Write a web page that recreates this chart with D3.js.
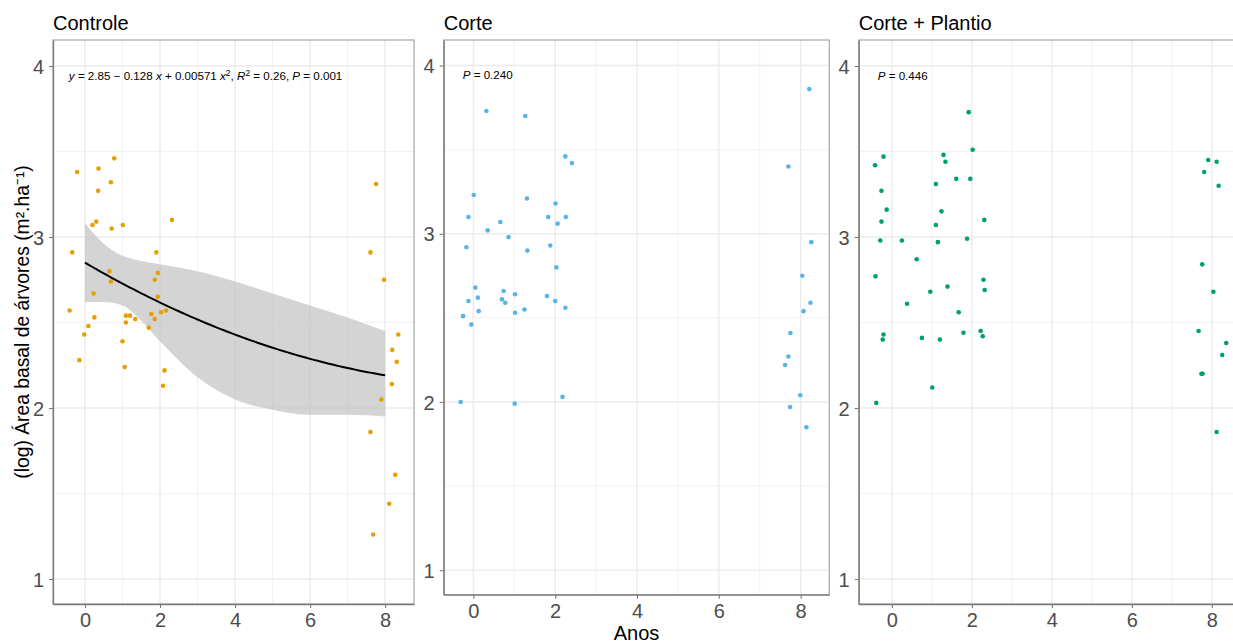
<!DOCTYPE html>
<html>
<head>
<meta charset="utf-8">
<script src="https://cdn.jsdelivr.net/npm/d3@7"></script>
<style>
  body { margin: 0; background: #fff; }
  text { font-family: "Liberation Sans", Arial, sans-serif; }
</style>
</head>
<body>
<div id="chart"></div>
<script>
// DATA
const panelTitles = ["Controle", "Corte", "Corte + Plantio"];
const xTicks = [0, 2, 4, 6, 8];
const yTicks = [1, 2, 3, 4];

const controleX = [-0.21, 0.78, 0.36, 0.69, 0.35, 0.20, 0.30, 0.71, 1.01, 2.32, -0.34, 1.90, 0.65, 0.69, 1.94, 1.86,
  0.23, 1.94, -0.41, 0.25, 1.09, 1.20, 1.34, 1.09, 1.77, 1.86, 2.03, 2.16, 1.70, 0.09, -0.02, 1.00, -0.15, 1.06, 2.12, 2.08,
  7.76, 7.61, 7.97, 8.35, 8.19, 8.31, 8.18, 7.90, 7.61, 8.27, 8.11, 7.68];
const controleY = [3.38, 3.46, 3.40, 3.32, 3.27, 3.07, 3.09, 3.05, 3.07, 3.10, 2.91, 2.91, 2.80, 2.74, 2.79, 2.75,
  2.67, 2.65, 2.57, 2.53, 2.54, 2.54, 2.52, 2.50, 2.55, 2.52, 2.56, 2.57, 2.47, 2.48, 2.43, 2.39, 2.28, 2.24, 2.22, 2.13,
  3.31, 2.91, 2.75, 2.43, 2.34, 2.27, 2.14, 2.05, 1.86, 1.61, 1.44, 1.26];

const corteX = [0.32, 1.27, 2.25, 2.41, 0.01, 1.31, 2.01, -0.12, 0.66, 1.83, 2.26, 2.06, 0.35, 0.86, -0.17, 1.32, 1.88,
  2.03, 0.05, 0.74, 0.11, -0.12, 0.70, 0.78, 1.02, 1.80, 2.00, 2.25, 0.13, 1.02, 1.25, -0.25, -0.05, -0.31, 1.01, 2.18,
  8.21, 7.70, 8.26, 8.04, 8.24, 8.07, 7.75, 7.70, 7.62, 7.99, 7.74, 8.14];
const corteY = [3.73, 3.70, 3.46, 3.42, 3.23, 3.21, 3.18, 3.10, 3.07, 3.10, 3.10, 3.06, 3.02, 2.98, 2.92, 2.90, 2.93,
  2.80, 2.68, 2.66, 2.62, 2.60, 2.61, 2.59, 2.64, 2.63, 2.60, 2.56, 2.54, 2.53, 2.55, 2.51, 2.46, 2.00, 1.99, 2.03,
  3.86, 3.40, 2.95, 2.75, 2.59, 2.54, 2.41, 2.27, 2.22, 2.04, 1.97, 1.85];

const plantioX = [1.92, 2.02, -0.21, 1.29, 1.34, -0.42, 1.61, 1.96, 1.10, -0.26, -0.13, 1.24, -0.26, 2.31, 1.10, -0.29,
  0.25, 1.15, 1.88, 0.62, -0.41, 2.29, 2.32, 1.39, 0.96, 0.38, 1.67, -0.21, -0.23, 0.75, 1.20, 1.79, 2.22, 2.27, 1.01, -0.39,
  7.91, 8.12, 7.81, 8.17, 7.76, 8.04, 7.67, 8.36, 8.26, 7.74, 7.77, 8.12];
const plantioY = [3.73, 3.51, 3.47, 3.48, 3.44, 3.42, 3.34, 3.34, 3.31, 3.27, 3.16, 3.15, 3.09, 3.10, 3.07, 2.98,
  2.98, 2.97, 2.99, 2.87, 2.77, 2.75, 2.69, 2.71, 2.68, 2.61, 2.56, 2.43, 2.40, 2.41, 2.40, 2.44, 2.45, 2.42, 2.12, 2.03,
  3.45, 3.44, 3.38, 3.30, 2.84, 2.68, 2.45, 2.38, 2.31, 2.20, 2.20, 1.86];

// fitted curve (quadratic) and its confidence band, Controle only
const fitX = [0, 0.5, 1, 1.5, 2, 3, 4, 5, 6, 7, 8];
const bandUpper = [3.08, 2.96, 2.89, 2.86, 2.84, 2.80, 2.74, 2.67, 2.60, 2.53, 2.45];
const bandLower = [2.62, 2.62, 2.60, 2.51, 2.39, 2.18, 2.05, 1.99, 1.96, 1.96, 1.95];
const fitCoef = [2.85, -0.128, 0.00571];

const pLabels = [null, "0.240", "0.446"];
const colors = ["#E69F00", "#56B4E9", "#009E73"];

const panels = [
  { left: 53, right: 414, top: 40, bottom: 604, xd: [-0.853, 8.77], yd: [0.854, 4.152], xs: controleX, ys: controleY },
  { left: 443.7, right: 829.3, top: 40, bottom: 594.7, xd: [-0.724, 8.70], yd: [0.854, 4.152], xs: corteX, ys: corteY },
  { left: 858.7, right: 1243, top: 40, bottom: 604, xd: [-0.83, 8.78], yd: [0.854, 4.152], xs: plantioX, ys: plantioY }
];

const W = 1233, H = 643;
const svg = d3.select("#chart").append("svg")
  .attr("width", W).attr("height", H)
  .style("display", "block");

panels.forEach((p, i) => {
  const x = d3.scaleLinear().domain(p.xd).range([p.left, p.right]);
  const y = d3.scaleLinear().domain(p.yd).range([p.bottom, p.top]);
  const g = svg.append("g");

  const clipId = "clip" + i;
  g.append("clipPath").attr("id", clipId).append("rect")
    .attr("x", p.left).attr("y", p.top)
    .attr("width", p.right - p.left).attr("height", p.bottom - p.top);

  // GRID
  const grid = g.append("g");
  const yMinor = [1.5, 2.5, 3.5];
  const xMinor = [1, 3, 5, 7];
  grid.selectAll(".ymin").data(yMinor).enter().append("line")
    .attr("x1", p.left).attr("x2", p.right)
    .attr("y1", d => y(d)).attr("y2", d => y(d))
    .attr("stroke", "#f2f2f2").attr("stroke-width", 1);
  grid.selectAll(".xmin").data(xMinor).enter().append("line")
    .attr("y1", p.top).attr("y2", p.bottom)
    .attr("x1", d => x(d)).attr("x2", d => x(d))
    .attr("stroke", "#f2f2f2").attr("stroke-width", 1);
  grid.selectAll(".ymaj").data(yTicks).enter().append("line")
    .attr("x1", p.left).attr("x2", p.right)
    .attr("y1", d => y(d)).attr("y2", d => y(d))
    .attr("stroke", "#ebebeb").attr("stroke-width", 1.4);
  grid.selectAll(".xmaj").data(xTicks).enter().append("line")
    .attr("y1", p.top).attr("y2", p.bottom)
    .attr("x1", d => x(d)).attr("x2", d => x(d))
    .attr("stroke", "#ebebeb").attr("stroke-width", 1.4);

  // RIBBON (Controle)
  if (i === 0) {
    const area = d3.area()
      .x((d, k) => x(fitX[k]))
      .y0((d, k) => y(bandLower[k]))
      .y1((d, k) => y(bandUpper[k]))
      .curve(d3.curveMonotoneX);
    g.append("path").datum(fitX)
      .attr("d", area)
      .attr("fill", "#bdbdbd").attr("fill-opacity", 0.65);
  }

  // POINTS
  g.append("g").attr("clip-path", `url(#${clipId})`)
    .selectAll("circle")
    .data(p.xs.map((v, k) => [v, p.ys[k]]))
    .enter().append("circle")
    .attr("cx", d => x(d[0]))
    .attr("cy", d => y(d[1]))
    .attr("r", 2.3)
    .attr("fill", colors[i]);

  if (i === 0) {
    const fitPts = d3.range(0, 8.01, 0.1).map(v => [v, fitCoef[0] + fitCoef[1] * v + fitCoef[2] * v * v]);
    g.append("path").datum(fitPts)
      .attr("d", d3.line().x(d => x(d[0])).y(d => y(d[1])))
      .attr("fill", "none").attr("stroke", "#000").attr("stroke-width", 2);
  }

  // BORDER
  g.append("rect")
    .attr("x", p.left).attr("y", p.top)
    .attr("width", p.right - p.left).attr("height", p.bottom - p.top)
    .attr("fill", "none").attr("stroke", "#a6a6a6").attr("stroke-width", 1.2);

  // AXES
  const ax = g.append("g").attr("transform", `translate(0,${p.bottom})`)
    .call(d3.axisBottom(x).tickValues(xTicks).tickSize(4).tickSizeOuter(0).tickPadding(5).tickFormat(d3.format("d")));
  const ay = g.append("g").attr("transform", `translate(${p.left},0)`)
    .call(d3.axisLeft(y).tickValues(yTicks).tickSize(4).tickSizeOuter(0).tickPadding(5).tickFormat(d3.format("d")));
  [ax, ay].forEach(a => {
    a.select(".domain").attr("stroke", "#7a7a7a").attr("stroke-width", 1.3);
    a.selectAll(".tick line").attr("stroke", "#7a7a7a").attr("stroke-width", 1.1);
    a.selectAll(".tick text").attr("fill", "#4d4d4d").attr("font-size", "20px")
      .style("font-family", "'Liberation Sans', Arial, sans-serif");
  });
  ay.selectAll(".tick text").attr("dy", "0.36em");

  // TITLE
  svg.append("text")
    .attr("x", p.left).attr("y", 30)
    .attr("font-size", "20px").attr("fill", "#000")
    .text(panelTitles[i]);

  // ANNOTATIONS
  if (i === 0) {
    const t = g.append("text")
      .attr("x", x(-0.43)).attr("y", y(3.92))
      .attr("font-size", "11.6px").attr("fill", "#000");
    t.append("tspan").attr("font-style", "italic").text("y");
    t.append("tspan").text(" = 2.85 \u2212 0.128 ");
    t.append("tspan").attr("font-style", "italic").text("x");
    t.append("tspan").text(" + 0.00571 ");
    t.append("tspan").attr("font-style", "italic").text("x");
    t.append("tspan").attr("dy", -4).attr("font-size", "8.5px").text("2");
    t.append("tspan").attr("dy", 4).text(", ");
    t.append("tspan").attr("font-style", "italic").text("R");
    t.append("tspan").attr("dy", -4).attr("font-size", "8.5px").text("2");
    t.append("tspan").attr("dy", 4).text(" = 0.26, ");
    t.append("tspan").attr("font-style", "italic").text("P");
    t.append("tspan").text(" = 0.001");
  } else {
    const t = g.append("text")
      .attr("x", p.left + 19).attr("y", y(3.92))
      .attr("font-size", "11.6px").attr("fill", "#000");
    t.append("tspan").attr("font-style", "italic").text("P");
    t.append("tspan").text(" = " + pLabels[i]);
  }
});

// AXIS TITLES
svg.append("text")
  .attr("transform", "translate(29,322) rotate(-90)")
  .attr("text-anchor", "middle")
  .attr("font-size", "19.3px").attr("fill", "#000")
  .text("(log) Área basal de árvores (m².ha⁻¹)");

svg.append("text")
  .attr("x", (panels[1].left + panels[1].right) / 2).attr("y", 640)
  .attr("text-anchor", "middle")
  .attr("font-size", "20px").attr("fill", "#000")
  .text("Anos");
</script>
</body>
</html>
